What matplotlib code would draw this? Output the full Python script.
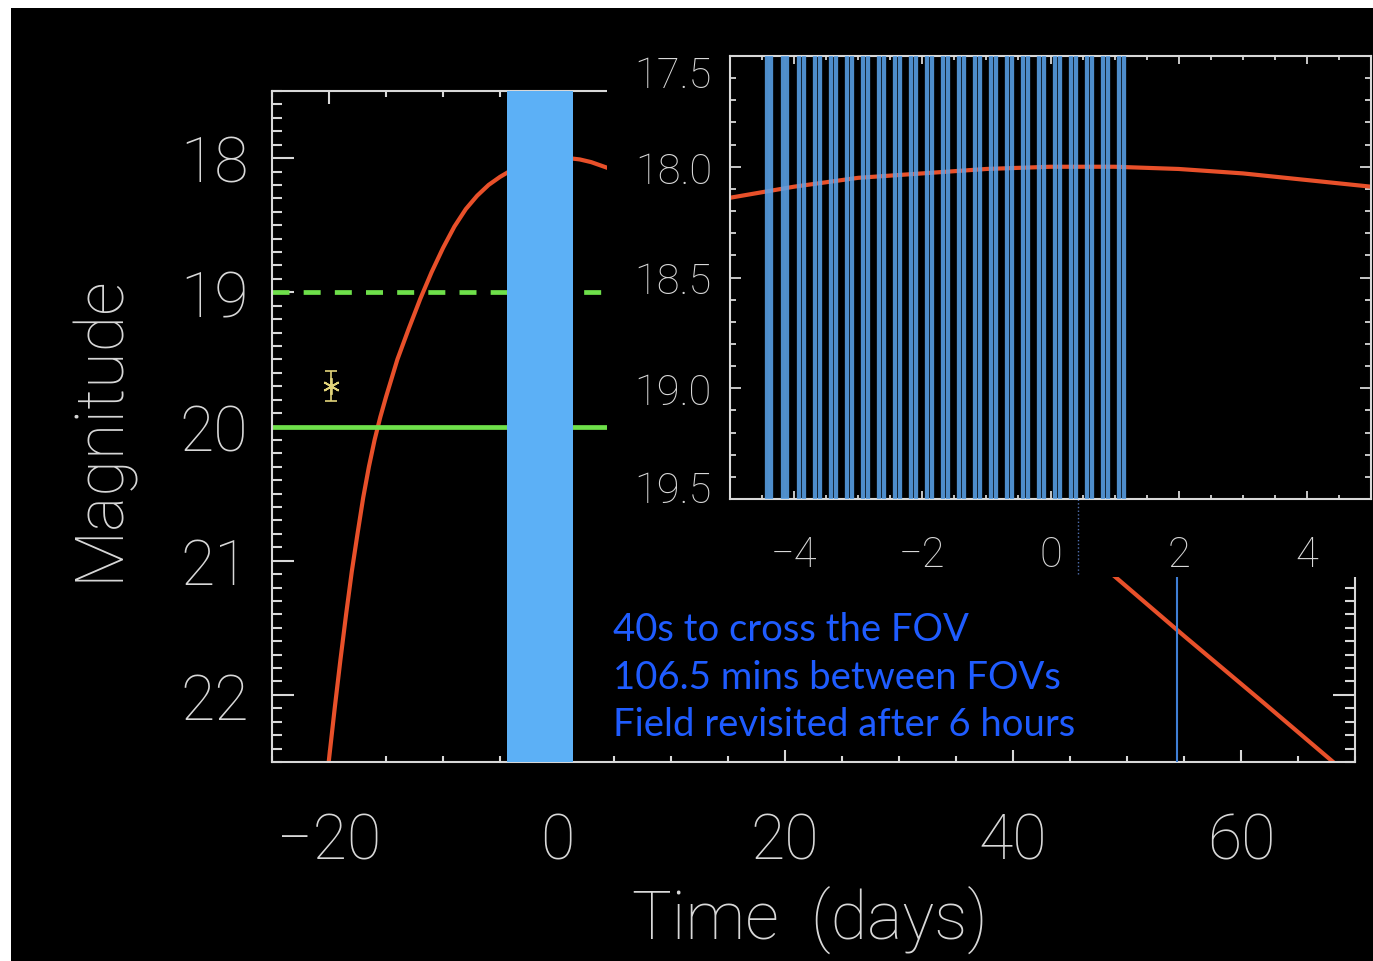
import matplotlib
matplotlib.use("Agg")
import matplotlib.pyplot as plt
from matplotlib.patches import Rectangle
from matplotlib.ticker import FormatStrFormatter, MultipleLocator
from matplotlib.transforms import ScaledTranslation

# light curve: days from peak, magnitude
LC_DAYS = [-20.4, -20.0, -19.5, -19.0, -18.5, -18.0, -17.5, -17.0, -16.5, -16.0, -15.5,
           -15.0, -14.0, -13.0, -12.0, -11.0, -10.0, -9.0, -8.0, -7.0, -6.0,
           -5.0, -4.0, -3.0, -2.0, -1.0, 0.0, 1.0, 2.0, 3.0, 4.0, 5.0,
           10.0, 20.0, 30.0, 40.0, 48.0, 55.0, 62.0, 68.5, 69.5]
LC_MAG = [22.78, 22.48, 22.10, 21.74, 21.40, 21.08, 20.80, 20.53, 20.30, 20.10, 19.93,
          19.78, 19.50, 19.27, 19.05, 18.85, 18.67, 18.51, 18.38, 18.28, 18.20,
          18.14, 18.09, 18.05, 18.03, 18.01, 18.00, 18.00, 18.01, 18.03, 18.06, 18.09,
          18.45, 19.25, 19.95, 20.55, 21.05, 21.56, 22.06, 22.53, 22.60]

LIMIT_DASHED = 19.0
LIMIT_SOLID = 20.0
DETECTION_DAY = -19.8
DETECTION_MAG = 19.7
DETECTION_ERR = 0.11
WINDOW = (-4.4, 1.4)
LATE_VISIT = 54.4
DOTTED_DAY = 0.43

# visits in the zoomed panel, each one two passes 106.5 min apart
VISIT_DAYS = [-4.39, -4.14, -3.89, -3.64, -3.39, -3.14, -2.89, -2.64, -2.39, -2.14,
              -1.89, -1.64, -1.39, -1.14, -0.89, -0.64, -0.39, -0.14, 0.11, 0.36,
              0.61, 0.86, 1.11]
PASS_GAP = 106.5 / 1440.0

NOTES = ["40s to cross the FOV", "106.5 mins between FOVs", "Field revisited after 6 hours"]

FG = "#d8d8d8"
RED = "#e8502a"
GREEN = "#6ee04a"
BAND = "#5cb0f6"
BAR = "#5aa2e8"
NOTE_BLUE = "#1f5cff"
STAR = "#e2d47a"

W, H = 1373, 962


def fx(px):
    return px / W


def fy(py):
    return 1 - py / H


plt.rcParams["font.family"] = ["Roboto", "DejaVu Sans"]
plt.rcParams["font.weight"] = "light"

fig = plt.figure(figsize=(W / 100, H / 100), dpi=100, facecolor="white")
fig.add_artist(Rectangle((fx(11), 0), 1, fy(9), transform=fig.transFigure,
                         facecolor="black", edgecolor="none", zorder=-5))

# main panel
ax = fig.add_axes([fx(272), fy(763), (1355 - 272) / W, (763 - 92) / H])
ax.set_zorder(1)
ax.set_facecolor("black")
ax.plot(LC_DAYS, LC_MAG, color=RED, lw=3, zorder=2)
ax.axhline(LIMIT_DASHED, color=GREEN, lw=3.4, ls=(0, (3.6, 3.0)), zorder=2)
ax.axhline(LIMIT_SOLID, color=GREEN, lw=3.4, zorder=2)
ax.axvspan(*WINDOW, color=BAND, lw=0, zorder=3)
ax.axvline(LATE_VISIT, color="#3f7fd6", lw=1.5, zorder=3)
ax.errorbar([DETECTION_DAY], [DETECTION_MAG], yerr=[DETECTION_ERR], fmt="none",
            ecolor=STAR, elinewidth=1.2, capsize=4, capthick=1.2, zorder=4)
ax.plot([DETECTION_DAY], [DETECTION_MAG], marker=(6, 2, 0), ms=12, mew=1.3,
        color=STAR, ls="none", zorder=4)

ax.set_xlim(-25, 70)
ax.set_ylim(22.5, 17.5)
ax.xaxis.set_major_locator(MultipleLocator(20))
ax.xaxis.set_minor_locator(MultipleLocator(5))
ax.yaxis.set_major_locator(MultipleLocator(1))
ax.yaxis.set_minor_locator(MultipleLocator(0.1))
ax.tick_params(which="both", direction="in", top=True, right=True, colors=FG, width=1.5)
ax.tick_params(axis="y", which="major", length=16, labelsize=45, pad=17)
ax.tick_params(axis="y", which="minor", length=7)
ax.tick_params(axis="x", which="major", length=9, labelsize=45, pad=35)
ax.tick_params(axis="x", which="minor", length=4.5)
for sp in ax.spines.values():
    sp.set_color(FG)
    sp.set_linewidth(1.5)

fig.text(fx(100), fy(428), "Magnitude", rotation=90, ha="center", va="center",
         fontsize=48, color=FG)
fig.text(fx(810), fy(920), "Time  (days)", ha="center", va="center", fontsize=48, color=FG)

for note, base in zip(NOTES, [641, 689, 736]):
    fig.text(fx(613), fy(base), note, color=NOTE_BLUE, fontsize=27.5, family="Lato",
             weight="normal", va="baseline")

# black backdrop behind the zoomed panel
fig.add_artist(Rectangle((fx(607), fy(578)), 1, fy(9) - fy(578), transform=fig.transFigure,
                         facecolor="black", edgecolor="none", zorder=2))

# zoomed panel
axi = fig.add_axes([fx(730), fy(500), (1371 - 730) / W, (500 - 57) / H])
axi.set_zorder(3)
axi.set_facecolor("black")
axi.plot(LC_DAYS, LC_MAG, color=RED, lw=3, zorder=2)
for t in VISIT_DAYS:
    for off in (-PASS_GAP / 2, PASS_GAP / 2):
        axi.axvline(t + off, color=BAR, lw=3.1, alpha=0.88, zorder=3)
axi.axvline(DOTTED_DAY, ymin=-0.17, ymax=0, color="#4f6fb0", lw=1, ls=":", clip_on=False)

axi.set_xlim(-5, 5)
axi.set_ylim(19.5, 17.5)
axi.xaxis.set_major_locator(MultipleLocator(2))
axi.xaxis.set_minor_locator(MultipleLocator(0.5))
axi.set_yticks([17.5, 18.0, 18.5, 19.0, 19.5])
axi.yaxis.set_minor_locator(MultipleLocator(0.1))
axi.yaxis.set_major_formatter(FormatStrFormatter("%.1f"))
axi.tick_params(which="both", direction="in", top=True, right=True, colors=FG, width=1.3)
axi.tick_params(axis="y", which="major", length=8, labelsize=30, pad=13)
axi.tick_params(axis="y", which="minor", length=4)
axi.tick_params(axis="x", which="major", length=6, labelsize=30, pad=25)
axi.tick_params(axis="x", which="minor", length=3)
for sp in axi.spines.values():
    sp.set_color(FG)
    sp.set_linewidth(1.5)

yt = axi.yaxis.get_major_ticks()
yt[0].label1.set_transform(yt[0].label1.get_transform()
                           + ScaledTranslation(0, -11 / 72, fig.dpi_scale_trans))
yt[-1].label1.set_transform(yt[-1].label1.get_transform()
                            + ScaledTranslation(0, 9 / 72, fig.dpi_scale_trans))

fig.savefig("out.png", dpi=100, facecolor=fig.get_facecolor())
